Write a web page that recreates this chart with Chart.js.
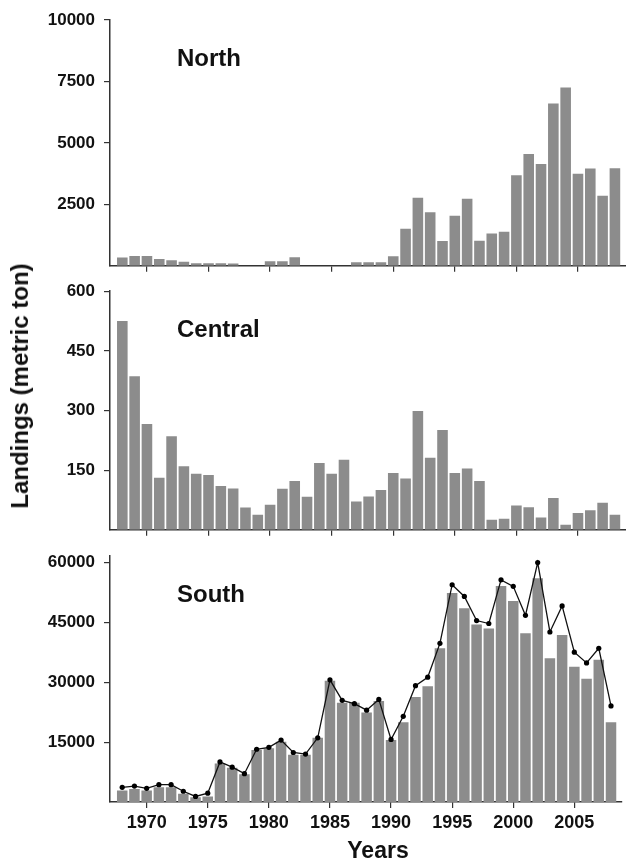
<!DOCTYPE html>
<html>
<head>
<meta charset="utf-8">
<script src="https://cdn.jsdelivr.net/npm/chart.js@4"></script>
<style>
    body { margin: 0; background: #fff; }
    #wrap { position: relative; width: 626px; height: 862px; font-family: "Liberation Sans", Arial, sans-serif; color: #111; }
    canvas { position: absolute; left: 0; }
    #ytitle { position: absolute; left: 20px; top: 386px; transform: translate(-50%, -50%) rotate(-90deg); white-space: nowrap; font-weight: bold; font-size: 24px; }
    #xtitle { position: absolute; left: 378px; top: 850px; transform: translate(-50%, -50%); font-weight: bold; font-size: 23px; }
</style>
</head>
<body>
<div id="wrap">
    <canvas id="NorthChart" width="626" height="285" style="top:0px"></canvas>
    <canvas id="CentralChart" width="626" height="277" style="top:272px"></canvas>
    <canvas id="SouthChart" width="626" height="325" style="top:537px"></canvas>
    <div id="ytitle">Landings (metric ton)</div>
    <div id="xtitle">Years</div>
</div>
<script>
var years = [1968, 1969, 1970, 1971, 1972, 1973, 1974, 1975, 1976, 1977,
             1978, 1979, 1980, 1981, 1982, 1983, 1984, 1985, 1986, 1987,
             1988, 1989, 1990, 1991, 1992, 1993, 1994, 1995, 1996, 1997,
             1998, 1999, 2000, 2001, 2002, 2003, 2004, 2005, 2006, 2007, 2008];
var yearTicks = [1970, 1975, 1980, 1985, 1990, 1995, 2000, 2005];

var north = [340, 400, 400, 280, 225, 160, 105, 105, 105, 90,
             0, 0, 185, 185, 345, 0, 0, 0, 0, 145,
             145, 145, 385, 1510, 2765, 2180, 1005, 2040, 2725, 1020,
             1310, 1390, 3680, 4550, 4140, 6600, 7250, 3745, 3955, 2845, 3970];
var northTicks = [2500, 5000, 7500, 10000];

var central = [525, 386, 266, 131, 235, 160, 141, 138, 110, 104,
               56, 38, 63, 103, 123, 83, 168, 141, 176, 71,
               84, 100, 143, 129, 299, 181, 251, 143, 154, 123,
               25, 28, 61, 57, 31, 80, 13, 42, 49, 68, 38];
var centralTicks = [150, 300, 450, 600];

var southBars = [2900, 3270, 2860, 3670, 3670, 2040, 1220, 1390, 9630, 8570,
                 6940, 13060, 13470, 15100, 11840, 11840, 16080, 30370, 24900, 24900,
                 22450, 25300, 15510, 20000, 26290, 28980, 38530, 52400, 48570, 44490,
                 43510, 54120, 50370, 42290, 56080, 36000, 41880, 33880, 30860, 35670, 20000];
var southLine = [3670, 4000, 3430, 4330, 4330, 2690, 1390, 2200, 10040, 8730,
                 7100, 13220, 13710, 15510, 12410, 12000, 16080, 30610, 25470, 24650,
                 23020, 25710, 15670, 21470, 29140, 31270, 39760, 54450, 51510, 45470,
                 44730, 55670, 54040, 46780, 60000, 42610, 49140, 37550, 34860, 38530, 24080];
var southTicks = [15000, 30000, 45000, 60000];

var FONT = '"Liberation Sans", Arial, sans-serif';

// writes the region name inside each panel
var panelLabel = {
    id: 'panelLabel',
    afterDraw: function (chart, args, opts) {
        var ctx = chart.ctx;
        ctx.save();
        ctx.font = 'bold 24px ' + FONT;
        ctx.fillStyle = '#111';
        ctx.fillText(opts.text, chart.chartArea.left + 67, chart.chartArea.top + 46);
        ctx.restore();
    }
};

function points(vals) {
    return years.map(function (yr, i) { return { x: yr, y: vals[i] }; });
}

function barSet(vals) {
    return {
        type: 'bar',
        data: points(vals),
        backgroundColor: '#8c8c8c',
        borderWidth: 0,
        barPercentage: 0.86,
        categoryPercentage: 1,
        order: 1
    };
}

function panelOptions(name, yTicks, yMax, showYears, topPad, xHeight) {
    return {
        responsive: false,
        animation: false,
        layout: { padding: { top: topPad, left: 0, right: 0, bottom: 0 } },
        plugins: {
            legend: { display: false },
            tooltip: { enabled: false },
            panelLabel: { text: name }
        },
        scales: {
            x: {
                type: 'linear',
                offset: false,
                min: 1967,
                max: 2008.9,
                grid: { offset: false, drawOnChartArea: false, tickLength: 6, color: '#333', lineWidth: 1.2 },
                border: { color: '#333', width: 1.5 },
                ticks: {
                    display: showYears,
                    padding: 4,
                    color: '#111',
                    font: { family: FONT, size: 18, weight: 'bold' },
                    callback: function (v) { return String(v); }
                },
                afterBuildTicks: function (s) { s.ticks = yearTicks.map(function (v) { return { value: v }; }); },
                afterFit: function (s) { s.height = xHeight; }
            },
            y: {
                min: 0,
                max: yMax,
                grid: { drawOnChartArea: false, tickLength: 6, color: '#333', lineWidth: 1.2 },
                border: { color: '#333', width: 1.5 },
                ticks: {
                    padding: 9,
                    color: '#111',
                    font: { family: FONT, size: 17, weight: 'bold' },
                    callback: function (v) { return String(v); }
                },
                afterBuildTicks: function (s) { s.ticks = yTicks.map(function (v) { return { value: v }; }); },
                afterFit: function (s) { s.width = 110; }
            }
        }
    };
}

// North
new Chart(document.getElementById('NorthChart').getContext('2d'), {
    data: { datasets: [barSet(north)] },
    options: panelOptions('North', northTicks, 10000, false, 20, 13),
    plugins: [panelLabel]
});

// Central
new Chart(document.getElementById('CentralChart').getContext('2d'), {
    data: { datasets: [barSet(central)] },
    options: panelOptions('Central', centralTicks, 600, false, 13, 13),
    plugins: [panelLabel]
});

// South, bars plus line
new Chart(document.getElementById('SouthChart').getContext('2d'), {
    data: {
        datasets: [{
            type: 'line',
            data: points(southLine),
            borderColor: '#111',
            borderWidth: 1.3,
            pointRadius: 2.6,
            pointBackgroundColor: '#000',
            pointBorderWidth: 0,
            tension: 0,
            order: 0
        }, barSet(southBars)]
    },
    options: panelOptions('South', southTicks, 61600, true, 13, 60),
    plugins: [panelLabel]
});
</script>
</body>
</html>
